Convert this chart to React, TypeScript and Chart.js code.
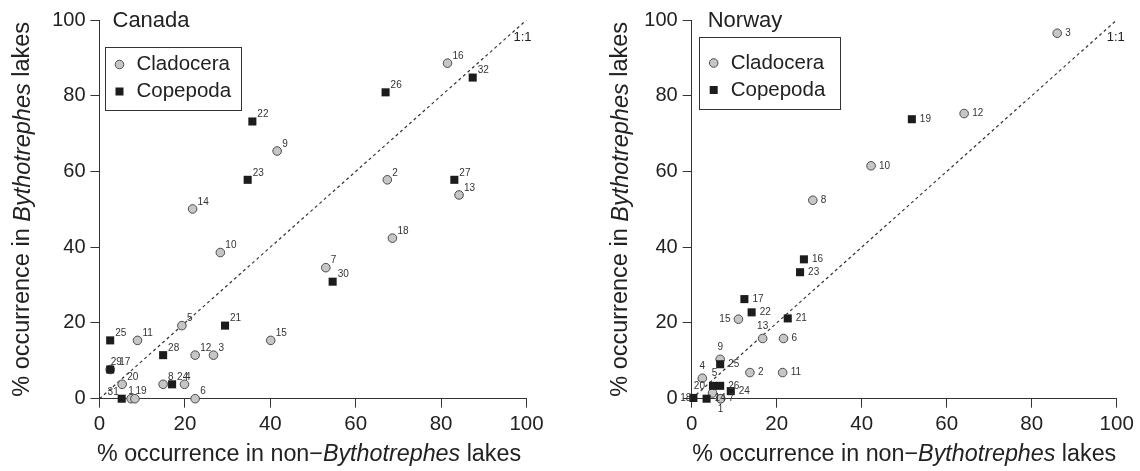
import React, { useEffect, useRef } from "react";
import { Chart, registerables } from "chart.js";
Chart.register(...registerables);

// ---------------- DATA ----------------
const tickValues = [0, 20, 40, 60, 80, 100];
const oneToOneLine = [0, 100];

// Canada
const canadaCladoceraIds = ["1", "2", "3", "4", "5", "6", "7", "8", "9", "10", "11", "12", "13", "14", "15", "16", "17", "18", "19", "20"];
const canadaCladoceraX = [7.4, 67.4, 26.7, 19.9, 19.3, 22.4, 53.0, 14.9, 41.6, 28.3, 8.9, 22.4, 84.2, 21.8, 40.1, 81.5, 2.5, 68.6, 8.3, 5.3];
const canadaCladoceraY = [0, 57.8, 11.5, 3.8, 19.3, 0, 34.6, 3.8, 65.4, 38.6, 15.4, 11.5, 53.8, 50.1, 15.4, 88.6, 7.7, 42.4, 0, 3.8];
const canadaCladoceraPos = ["uc", "ur", "ur", "u", "ur", "ur", "ur", "ur", "ur", "ur", "ur", "ur", "ur", "ur", "ur", "ur", "ur2", "ur", "u", "ur"];

const canadaCopepodaIds = ["21", "22", "23", "24", "25", "26", "27", "28", "29", "30", "31", "32"];
const canadaCopepodaX = [29.4, 35.8, 34.7, 17.0, 2.5, 67.0, 83.1, 14.9, 2.5, 54.6, 5.2, 87.4];
const canadaCopepodaY = [19.3, 73.2, 57.8, 3.8, 15.4, 80.9, 57.8, 11.5, 7.7, 30.9, 0, 84.8];
const canadaCopepodaPos = ["ur", "ur", "ur", "ur", "ur", "ur", "ur", "ur", "u", "ur", "ul", "ur"];

// Norway
const norwayCladoceraIds = ["1", "2", "3", "4", "5", "6", "7", "8", "9", "10", "11", "12", "13", "15"];
const norwayCladoceraX = [6.8, 13.7, 86.0, 2.5, 4.9, 21.6, 6.8, 28.5, 6.7, 42.2, 21.4, 64.1, 16.7, 11.0];
const norwayCladoceraY = [0, 6.9, 96.5, 5.4, 1.5, 15.9, 0, 52.4, 10.4, 61.5, 6.9, 75.3, 15.9, 21.0];
const norwayCladoceraPos = ["b", "r", "r", "a", "a2", "r", "r", "r", "a", "r", "r", "r", "a", "l"];

const norwayCopepodaIds = ["14", "16", "17", "18", "19", "20", "21", "22", "23", "24", "25", "26"];
const norwayCopepodaX = [3.5, 26.4, 12.4, 0.4, 51.8, 5.0, 22.6, 14.1, 25.5, 9.2, 6.7, 6.7];
const norwayCopepodaY = [0, 36.8, 26.3, 0.2, 73.8, 3.4, 21.2, 22.8, 33.4, 2.0, 9.1, 3.4];
const norwayCopepodaPos = ["r", "r", "r", "lc", "r", "l", "r", "r", "r", "r", "r", "r"];

const seriesNames = ["Cladocera", "Copepoda"];
const xTitleParts: [string, boolean][] = [["% occurrence in non\u2212", false], ["Bythotrephes", true], [" lakes", false]];
const yTitleParts: [string, boolean][] = [["% occurrence in ", false], ["Bythotrephes", true], [" lakes", false]];

// ---------------- STYLE ----------------
const FONT = '"Liberation Sans", Arial, Helvetica, sans-serif';
const AXIS = "#333333";
const CIRCLE_FILL = "#c6c6c6";
const CIRCLE_EDGE = "#4a4a4a";
const SQUARE_FILL = "#1c1c1c";

function pts(xs: number[], ys: number[]) {
  return xs.map((x, i) => ({ x, y: ys[i] }));
}

function drawRich(ctx: CanvasRenderingContext2D, parts: [string, boolean][], x: number, y: number, size: number) {
  const fonts = parts.map((p) => `${p[1] ? "italic " : ""}${size}px ${FONT}`);
  const widths = parts.map((p, i) => {
    ctx.font = fonts[i];
    return ctx.measureText(p[0]).width;
  });
  const total = widths.reduce((a, b) => a + b, 0);
  let cx = x - total / 2;
  ctx.textAlign = "left";
  ctx.textBaseline = "middle";
  parts.forEach((p, i) => {
    ctx.font = fonts[i];
    ctx.fillText(p[0], cx, y);
    cx += widths[i];
  });
}

const labelPlugin = {
  id: "pointLabels",
  afterDatasetsDraw(chart: any) {
    const ctx: CanvasRenderingContext2D = chart.ctx;
    const cfg = chart.options.plugins.panel;
    ctx.save();
    ctx.fillStyle = "#333";
    ctx.font = `${cfg.labelSize}px ${FONT}`;
    chart.data.datasets.forEach((ds: any, di: number) => {
      if (!ds.ids) return;
      const meta = chart.getDatasetMeta(di);
      meta.data.forEach((el: any, i: number) => {
        const code = ds.pos[i];
        let x = el.x;
        let y = el.y;
        let align: CanvasTextAlign = "left";
        switch (code) {
          case "ur": x += 5; y -= 7; break;
          case "u": x += 0.5; y -= 7; break;
          case "uc": align = "center"; y -= 7; break;
          case "ul": align = "right"; x -= 3; y -= 6; break;
          case "ur2": x += 9; y -= 7; break;
          case "r": x += 8; break;
          case "l": align = "right"; x -= 8; break;
          case "lc": align = "right"; x -= 2; break;
          case "a": align = "center"; y -= 12; break;
          case "a2": align = "center"; x += 2; y -= 20; break;
          case "b": align = "center"; y += 11; break;
        }
        ctx.textAlign = align;
        ctx.textBaseline = "middle";
        ctx.fillText(ds.ids[i], x, y);
      });
    });
    ctx.restore();
  },
  afterDraw(chart: any) {
    const ctx: CanvasRenderingContext2D = chart.ctx;
    const cfg = chart.options.plugins.panel;
    const xs = chart.scales.x;
    const ys = chart.scales.y;
    const a = chart.chartArea;
    ctx.save();
    ctx.fillStyle = "#222";
    // panel title
    ctx.font = `22px ${FONT}`;
    ctx.textAlign = "left";
    ctx.textBaseline = "middle";
    ctx.fillText(cfg.title, a.left + cfg.titleDx, a.top + 1);
    // 1:1 label
    ctx.font = `13px ${FONT}`;
    ctx.fillText("1:1", xs.getPixelForValue(100) - cfg.oneDx, ys.getPixelForValue(100) + 17);
    // legend
    const lb = cfg.legend;
    const L = a.left + lb.dx;
    const T = a.top + lb.dy;
    ctx.strokeStyle = AXIS;
    ctx.lineWidth = 1;
    ctx.strokeRect(Math.round(L) + 0.5, Math.round(T) + 0.5, lb.w, lb.h);
    const rows = [T + lb.row1, T + lb.row2];
    ctx.beginPath();
    ctx.arc(L + 15, rows[0], 4.3, 0, Math.PI * 2);
    ctx.fillStyle = CIRCLE_FILL;
    ctx.fill();
    ctx.strokeStyle = CIRCLE_EDGE;
    ctx.stroke();
    ctx.fillStyle = SQUARE_FILL;
    ctx.fillRect(L + 11, rows[1] - 4, 8, 8);
    ctx.fillStyle = "#222";
    ctx.font = `20.5px ${FONT}`;
    ctx.textAlign = "left";
    ctx.fillText(seriesNames[0], L + 32, rows[0]);
    ctx.fillText(seriesNames[1], L + 32, rows[1]);
    // axis titles
    drawRich(ctx, xTitleParts, (a.left + a.right) / 2 + cfg.xTitleDx, 455, 23.3);
    ctx.save();
    ctx.translate(cfg.yTitleX, (a.top + a.bottom) / 2);
    ctx.rotate(-Math.PI / 2);
    drawRich(ctx, yTitleParts, 0, 0, 23.5);
    ctx.restore();
    ctx.restore();
  },
};

type Panel = {
  title: string;
  axisLeft: number;
  axisRight: number;
  cladIds: string[]; cladX: number[]; cladY: number[]; cladPos: string[];
  copIds: string[]; copX: number[]; copY: number[]; copPos: string[];
  titleDx: number;
  oneDx: number;
  labelSize: number;
  yTitleX: number;
  xTitleDx: number;
  legend: { dx: number; dy: number; w: number; h: number; row1: number; row2: number };
};

const panels: Panel[] = [
  {
    title: "Canada", axisLeft: 99.5, axisRight: 526.5,
    cladIds: canadaCladoceraIds, cladX: canadaCladoceraX, cladY: canadaCladoceraY, cladPos: canadaCladoceraPos,
    copIds: canadaCopepodaIds, copX: canadaCopepodaX, copY: canadaCopepodaY, copPos: canadaCopepodaPos,
    titleDx: 13, oneDx: 13, labelSize: 10, yTitleX: 23, xTitleDx: -4,
    legend: { dx: 5, dy: 27, w: 136, h: 63, row1: 17.5, row2: 44.5 },
  },
  {
    title: "Norway", axisLeft: 121.7, axisRight: 546.7,
    cladIds: norwayCladoceraIds, cladX: norwayCladoceraX, cladY: norwayCladoceraY, cladPos: norwayCladoceraPos,
    copIds: norwayCopepodaIds, copX: norwayCopepodaX, copY: norwayCopepodaY, copPos: norwayCopepodaPos,
    titleDx: 16, oneDx: 10, labelSize: 10, yTitleX: 51, xTitleDx: 0,
    legend: { dx: 7, dy: 17, w: 141, h: 72, row1: 26, row2: 53 },
  },
];

function PanelChart({ p, left }: { p: Panel; left: number }) {
  const ref = useRef<HTMLCanvasElement | null>(null);
  useEffect(() => {
    if (!ref.current) return;
    const axisCommon = {
      type: "linear" as const,
      min: 0,
      max: 100,
      border: { display: true, color: AXIS, width: 1 },
      grid: { display: true, drawOnChartArea: false, drawTicks: true, tickLength: 9, color: AXIS },
      afterBuildTicks: (scale: any) => {
        scale.ticks = tickValues.map((v) => ({ value: v }));
      },
    };
    const chart = new Chart(ref.current, {
      type: "scatter",
      data: {
        datasets: [
          {
            label: "1:1",
            type: "line",
            data: oneToOneLine.map((v) => ({ x: v, y: v })),
            borderColor: AXIS,
            borderWidth: 1.2,
            borderDash: [3, 3],
            pointRadius: 0,
            showLine: true,
            fill: false,
            order: 3,
          } as any,
          {
            label: seriesNames[0],
            data: pts(p.cladX, p.cladY),
            pointStyle: "circle",
            pointRadius: 4.3,
            pointBackgroundColor: CIRCLE_FILL,
            pointBorderColor: CIRCLE_EDGE,
            pointBorderWidth: 1,
            clip: false,
            order: 2,
            ids: p.cladIds,
            pos: p.cladPos,
          } as any,
          {
            label: seriesNames[1],
            data: pts(p.copX, p.copY),
            pointStyle: "rect",
            pointRadius: 5.7,
            pointBackgroundColor: SQUARE_FILL,
            pointBorderColor: SQUARE_FILL,
            pointBorderWidth: 0,
            clip: false,
            order: 1,
            ids: p.copIds,
            pos: p.copPos,
          } as any,
        ],
      },
      options: {
        animation: false,
        responsive: false,
        events: [],
        layout: { padding: { left: 0, top: 20, right: 570 - p.axisRight, bottom: 0 } },
        scales: {
          x: {
            ...axisCommon,
            position: "bottom",
            ticks: { color: "#222", font: { size: 20.5, family: FONT }, padding: 4, maxRotation: 0, autoSkip: false },
            afterFit: (scale: any) => { scale.height = 471 - 398.7; },
          },
          y: {
            ...axisCommon,
            position: "left",
            ticks: { color: "#222", font: { size: 20, family: FONT }, padding: 5, autoSkip: false },
            afterFit: (scale: any) => { scale.width = p.axisLeft; },
          },
        },
        plugins: {
          legend: { display: false },
          tooltip: { enabled: false },
          panel: p,
        } as any,
      },
      plugins: [labelPlugin],
    } as any);
    return () => chart.destroy();
  }, [p]);
  return (
    <canvas
      ref={ref}
      width={570}
      height={471}
      style={{ position: "absolute", left, top: 0, width: 570, height: 471, display: "block" }}
    />
  );
}

export default function App() {
  return (
    <div style={{ position: "absolute", left: 0, top: 0, width: 1140, height: 471, background: "#fff" }}>
      <PanelChart p={panels[0]} left={0} />
      <PanelChart p={panels[1]} left={570} />
    </div>
  );
}
